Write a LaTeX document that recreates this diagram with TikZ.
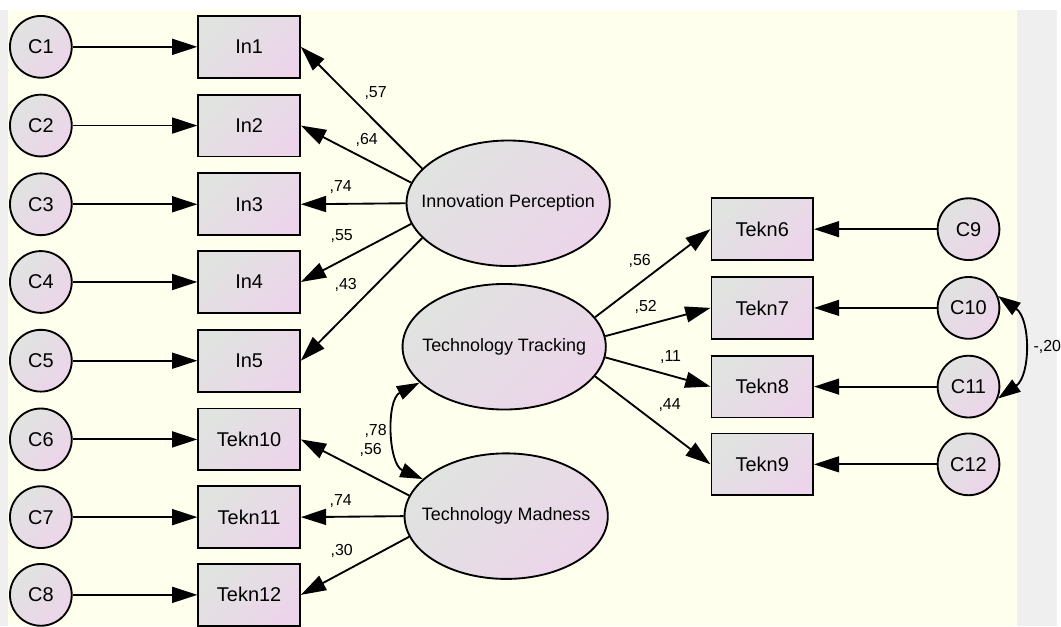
\documentclass[tikz,border=0pt]{standalone}
\usepackage{fontspec}
\setmainfont{Liberation Sans}
\usetikzlibrary{arrows.meta}
\usetikzlibrary{shapes.geometric}
\definecolor{cream}{RGB}{255,255,238}
\definecolor{panelgray}{RGB}{239,239,239}
\definecolor{shadegray}{RGB}{224,227,224}
\definecolor{shadepink}{RGB}{236,213,234}

\begin{document}
\begin{tikzpicture}[x=0.75pt,y=-0.75pt]
	\tikzstyle{obs}=[draw,line width=1.4pt,left color=shadegray,right color=shadepink,shading angle=45,minimum width=76.5pt,minimum height=46.5pt,inner sep=0pt,font=\fontsize{15}{18}\selectfont]
	\tikzstyle{err}=[draw,circle,line width=1.4pt,left color=shadegray,right color=shadepink,shading angle=45,minimum size=46.5pt,inner sep=0pt,font=\fontsize{15}{18}\selectfont]
	\tikzstyle{lat}=[draw,ellipse,line width=1.4pt,left color=shadegray,right color=shadepink,shading angle=45,minimum width=153pt,minimum height=94.5pt,inner sep=0pt,font=\fontsize{13.5}{16}\selectfont]
	\tikzstyle{load}=[line width=1.4pt,-{Triangle[length=19pt,width=12pt]}]
	\tikzstyle{cov}=[line width=1.4pt,{Triangle[length=17pt,width=11pt]}-{Triangle[length=17pt,width=11pt]}]
	\tikzstyle{coef}=[inner sep=0pt,font=\fontsize{12}{14}\selectfont]
	% background
	\fill[white] (0,0) rectangle (1061,628);
	\fill[panelgray] (0,10) rectangle (1061,628);
	\fill[cream] (8,10) rectangle (1021,628);
	% latent variables
	\node[lat] (ip) at (510,204) {\makebox[0pt]{Innovation Perception}};
	\node[lat] (tt) at (506,348) {\makebox[0pt]{Technology Tracking}};
	\node[lat] (tm) at (508,518) {\makebox[0pt]{Technology Madness}};
	% left indicators
	\node[obs] (in1) at (250,47) {In1};
	\node[obs] (in2) at (250,126) {In2};
	\node[obs] (in3) at (250,205) {In3};
	\node[obs] (in4) at (250,283) {In4};
	\node[obs] (in5) at (250,362) {In5};
	\node[obs] (tk10) at (250,441) {Tekn10};
	\node[obs] (tk11) at (250,519) {Tekn11};
	\node[obs] (tk12) at (250,597) {Tekn12};
	\node[err] (c1) at (41,47) {C1};
	\node[err] (c2) at (41,126) {C2};
	\node[err] (c3) at (41,205) {C3};
	\node[err] (c4) at (41,283) {C4};
	\node[err] (c5) at (41,362) {C5};
	\node[err] (c6) at (41,441) {C6};
	\node[err] (c7) at (41,519) {C7};
	\node[err] (c8) at (41,597) {C8};
	% right indicators
	\node[obs] (tk6) at (765,230) {Tekn6};
	\node[obs] (tk7) at (765,309) {Tekn7};
	\node[obs] (tk8) at (765,388) {Tekn8};
	\node[obs] (tk9) at (765,466) {Tekn9};
	\node[err] (c9) at (972,230) {C9};
	\node[err] (c10) at (972,309) {C10};
	\node[err] (c11) at (972,388) {C11};
	\node[err] (c12) at (972,466) {C12};
	% error terms
	\draw[load] (c1) -- (in1);
	\draw[load] (c2) -- (in2);
	\draw[load] (c3) -- (in3);
	\draw[load] (c4) -- (in4);
	\draw[load] (c5) -- (in5);
	\draw[load] (c6) -- (tk10);
	\draw[load] (c7) -- (tk11);
	\draw[load] (c8) -- (tk12);
	\draw[load] (c9) -- (tk6);
	\draw[load] (c10) -- (tk7);
	\draw[load] (c11) -- (tk8);
	\draw[load] (c12) -- (tk9);
	% loadings
	\draw[load] (ip.158) -- (in1.east);
	\draw[load] (ip.168) -- (in2.east);
	\draw[load] (ip.180) -- (in3.east);
	\draw[load] (ip.192) -- (in4.east);
	\draw[load] (ip.202) -- (in5.east);
	\draw[load] (tt.18) -- (tk6.west);
	\draw[load] (tt.6) -- (tk7.west);
	\draw[load] (tt.-6) -- (tk8.west);
	\draw[load] (tt.-18) -- (tk9.west);
	\draw[load] (tm.168) -- (tk10.east);
	\draw[load] (tm.180) -- (tk11.east);
	\draw[load] (tm.192) -- (tk12.east);
	% covariances
	\draw[cov] (tt.203) to[bend right=65] (tm.156);
	\draw[cov] (c10.22) to[bend left=55] (c11.-22);
	% estimates
	\node[coef] (e1) at (377,93) {,57};
	\node[coef] (e2) at (368,140) {,64};
	\node[coef] (e3) at (342,188) {,74};
	\node[coef] (e4) at (343,237) {,55};
	\node[coef] (e5) at (347,286) {,43};
	\node[coef] (e6) at (642,262) {,56};
	\node[coef] (e7) at (648,308) {,52};
	\node[coef] (e8) at (673,358) {,11};
	\node[coef] (e9) at (672,406) {,44};
	\node[coef] (e10) at (377,433) {,78};
	\node[coef] (e11) at (372,452) {,56};
	\node[coef] (e12) at (342,503) {,74};
	\node[coef] (e13) at (343,553) {,30};
	\node[coef,anchor=west] (e14) at (1037,348) {-,20};
\end{tikzpicture}
\end{document}
